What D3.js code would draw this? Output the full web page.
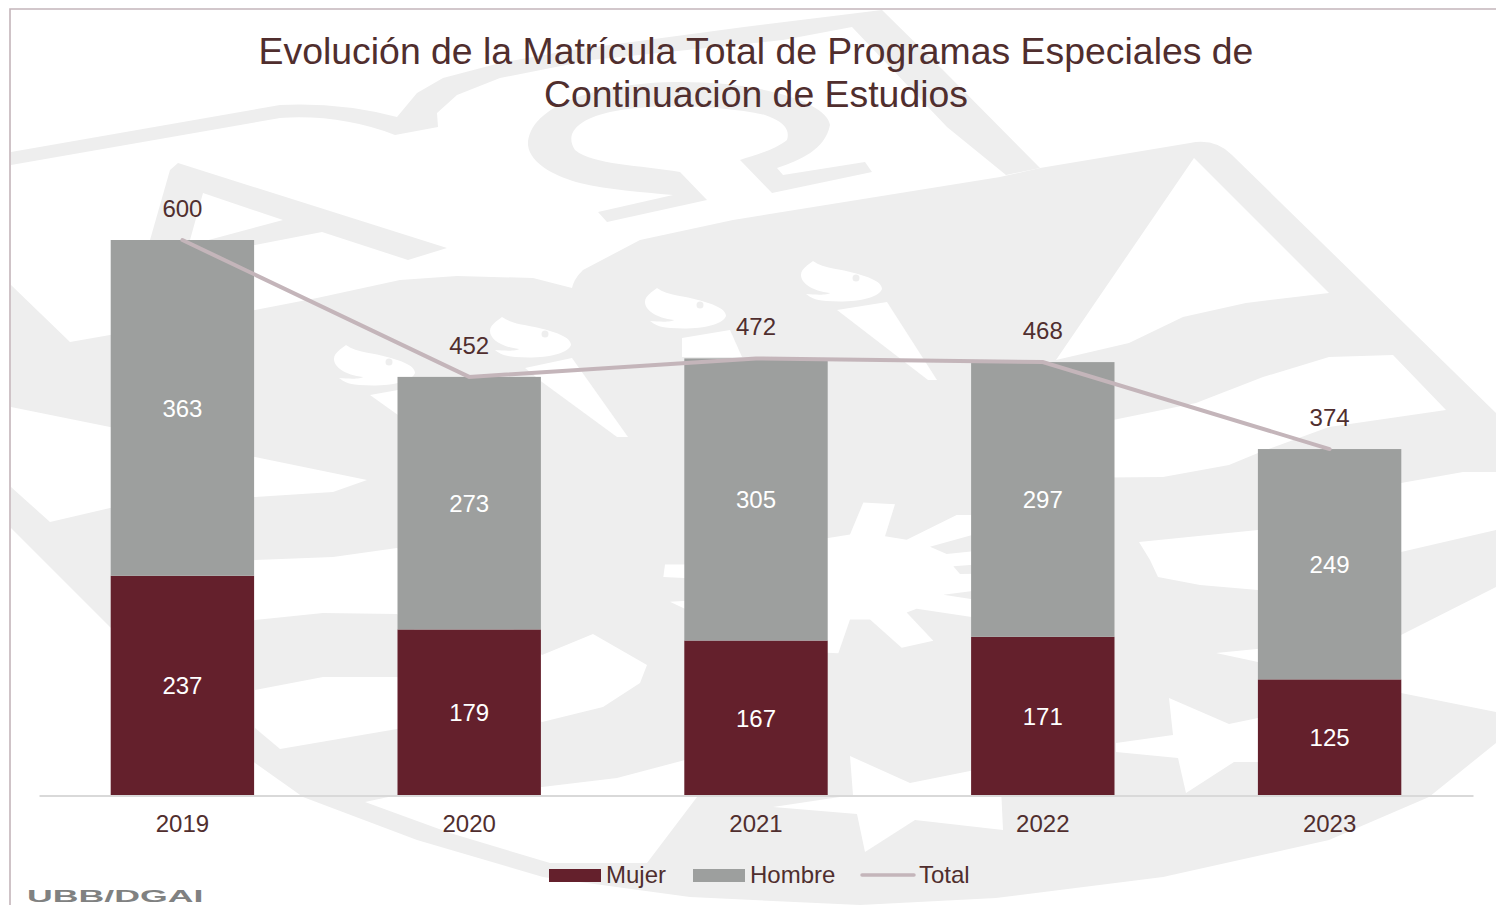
<!DOCTYPE html>
<html><head><meta charset="utf-8">
<script src="https://cdn.jsdelivr.net/npm/d3@7/dist/d3.min.js"></script>
<style>html,body{margin:0;padding:0;background:#fff;overflow:hidden}svg{display:block}text{font-family:"Liberation Sans",Arial,sans-serif}</style>
</head><body><svg id="c" width="1496" height="905"></svg>
<script>
const years=["2019","2020","2021","2022","2023"];
const mujer=[237,179,167,171,125];
const hombre=[363,273,305,297,249];
const total=[600,452,472,468,374];
const titleLines=["Evolución de la Matrícula Total de Programas Especiales de","Continuación de Estudios"];
const legendItems=["Mujer","Hombre","Total"];
const TXT="#502e2e",WINE="#64202c",GREY="#9d9f9e",LINE="#c4b5ba",WM="#eeeeee";
const svg=d3.select("#c");
const xBar=d3.scaleBand().domain(years).range([39,1473]).paddingInner(0.5).paddingOuter(0.25);
const y=d3.scaleLinear().domain([0,600]).range([795,240]);

// watermark
const wm=svg.append("g");
const poly=(pts,fill)=>wm.append("path").attr("d","M"+pts.map(p=>p.join(",")).join("L")+"Z").attr("fill",fill);
const z6=a=>a.map(p=>[500+p[0]/3,350+p[1]/2.82]);
// top band + frame
wm.append("path").attr("fill",WM).attr("d","M11,152L280,105Q340,102 397,117L417,93L443,78L500,63L572,50L744,27L882,10L943,70L1040,168L1006,175L947,127L852,27L783,40L591,60L500,78L457,95L437,113L438,127L395,135Q340,114 280,118L11,165Z");
poly([[170,170],[178,163],[447,248],[408,260],[322,232],[255,245],[190,245],[283,220],[203,193],[190,240],[150,240]],WM);
// omega
wm.append("path").attr("fill",WM).attr("d","M598,212L607,222L707,200L680,172C640,165 593,165 575,150C565,135 575,120 610,112C650,103 720,105 765,115C785,122 790,130 787,140C775,150 755,155 740,160L772,193L872,172L865,162L783,175L777,168C800,160 825,150 830,125C828,105 770,82 680,82C600,82 528,105 528,145C530,165 560,178 580,183C610,190 640,192 673,195Z");
// main blob
wm.append("path").attr("fill",WM).attr("d","M11,285L70,342L110,335L255,310L317,298L400,280L457,276L533,278L572,288C574,280 578,275 583,270L640,240L733,220L1000,177L1040,168L1190,143Q1215,138 1232,155L1496,413L1496,743L1429,797L1329,840L1163,877L996,898L860,905L690,897L543,877L417,840L303,797L255,763L110,627L11,528Z");
// cut-outs
const cuts=[
 [[1194,158],[1329,293],[1246,303],[1183,317],[1129,343],[1056,360]],
 [[1393,355],[1446,410],[1329,427],[1258,453],[1229,465],[1163,477],[1050,478],[1050,425],[1113,420],[1196,403],[1263,377],[1329,357]],
 [[1139,542],[1258,530],[1401,483],[1463,472],[1496,472],[1496,530],[1401,552],[1258,590],[1200,585],[1158,577],[1150,560]],
 [[1216,653],[1401,635],[1496,587],[1496,712],[1401,693],[1258,662]],
 [[1116,743],[1173,735],[1169,698],[1229,724],[1258,718],[1330,730],[1330,762],[1234,762],[1186,793],[1178,758],[1116,752]],
 [[850,756],[910,783],[1000,765],[1003,830],[915,820],[865,852],[857,814],[773,807],[853,795]],
 [[365,802],[393,796],[470,790],[542,787],[617,778],[685,760],[697,797],[647,863],[550,863],[450,833]],
 [[11,407],[110,427],[255,457],[367,480],[333,492],[255,497],[110,508],[50,522],[11,487]],
 [[255,560],[333,557],[397,548],[470,590],[542,655],[593,634],[647,665],[640,683],[603,707],[542,722],[470,680],[397,614],[323,613],[255,620],[180,640],[180,570]],
 [[255,690],[323,677],[397,677],[470,700],[397,729],[280,749],[255,728]],
 [[370,395],[398,390],[398,415]],
 [[525,368],[572,358],[628,437],[617,437],[542,382]],
 [[837,310],[887,302],[937,380],[928,380]],
 [[682,338],[730,330],[742,357],[682,357]],
 z6([[985,530],[1050,520],[1090,430],[1185,435],[1155,525],[1220,535],[1370,465],[1500,465],[1500,500],[1290,555],[1340,575],[1500,560],[1500,600],[1360,610],[1380,632],[1500,630],[1500,670],[1330,690],[1500,715],[1500,765],[1250,730],[1220,740],[1300,820],[1205,840],[1110,760],[1050,760],[1015,855],[900,850],[900,530]]),
 z6([[495,605],[600,605],[600,645],[490,640]]),
 z6([[510,710],[600,705],[600,750]])
];
cuts.forEach(c=>poly(c,"#fff"));
[[648,288],[804,261],[337,345],[493,317]].forEach(p=>{
 const g=wm.append("g").attr("transform",`translate(${p[0]},${p[1]})`);
 g.append("path").attr("fill","#fff").attr("d","M9,0C20,8 38,8 50,12C62,15 78,20 78,28C74,38 50,42 22,40C10,39 6,36 2,33C14,34 24,34 26,32C8,30 -3,22 -3,14C-3,8 4,4 9,0Z");
 g.append("circle").attr("cx",52).attr("cy",17).attr("r",3.5).attr("fill",WM);
});

// frame
svg.append("path").attr("d","M10,905V9H1496").attr("fill","none").attr("stroke",LINE).attr("stroke-width",1.6);

// title
svg.append("g").selectAll("text").data(titleLines).join("text")
 .attr("x",756).attr("y",(d,i)=>64+i*43).attr("text-anchor","middle").attr("font-size",37.4).attr("fill",TXT).text(d=>d);

// bars
const bw=xBar.bandwidth();
const bars=svg.append("g");
bars.selectAll(".m").data(years).join("rect").attr("x",d=>xBar(d)).attr("width",bw)
 .attr("y",(d,i)=>y(mujer[i])).attr("height",(d,i)=>y(0)-y(mujer[i])).attr("fill",WINE);
bars.selectAll(".h").data(years).join("rect").attr("x",d=>xBar(d)).attr("width",bw)
 .attr("y",(d,i)=>y(mujer[i]+hombre[i])).attr("height",(d,i)=>y(mujer[i])-y(mujer[i]+hombre[i])).attr("fill",GREY);

// axis
const ax=svg.append("g").attr("transform","translate(0,795.5)").call(d3.axisBottom(xBar).tickSize(0).tickPadding(19));
ax.select(".domain").attr("stroke","#d9d9d9").attr("stroke-width",2);
ax.selectAll("text").attr("font-size",24).attr("font-family","Liberation Sans").attr("fill",TXT);

// total line
const cx=d=>xBar(d)+bw/2;
svg.append("path").datum(years).attr("fill","none").attr("stroke",LINE).attr("stroke-width",4).attr("stroke-linecap","round")
 .attr("d",d3.line().x(cx).y((d,i)=>y(total[i])));

// labels
const lab=svg.append("g").attr("text-anchor","middle").attr("font-size",24);
lab.selectAll(".a").data(years).join("text").attr("x",cx).attr("y",(d,i)=>y(mujer[i]/2)+9).attr("fill","#fff").text((d,i)=>mujer[i]);
lab.selectAll(".b").data(years).join("text").attr("x",cx).attr("y",(d,i)=>y(mujer[i]+hombre[i]/2)+9).attr("fill","#fff").text((d,i)=>hombre[i]);
lab.selectAll(".c").data(years).join("text").attr("x",cx).attr("y",(d,i)=>y(total[i])-23).attr("fill",TXT).text((d,i)=>total[i]);

// legend
const leg=svg.append("g");
const legX=[549,693,861],legT=[606,750,919];
legendItems.forEach((t,i)=>{
 if(i<2) leg.append("rect").attr("x",legX[i]).attr("y",869).attr("width",52).attr("height",13).attr("fill",i?GREY:WINE);
 else leg.append("line").attr("x1",legX[i]+1).attr("x2",legX[i]+53).attr("y1",875).attr("y2",875).attr("stroke",LINE).attr("stroke-width",3.5).attr("stroke-linecap","round");
 leg.append("text").attr("x",legT[i]).attr("y",883).attr("font-size",24).attr("fill",TXT).text(t);
});

// footer
svg.append("text").attr("transform","translate(27,902) scale(2.1,1)").attr("font-size",17).attr("font-weight","bold").attr("fill","#808181").text("UBB/DGAI");
</script></body></html>
